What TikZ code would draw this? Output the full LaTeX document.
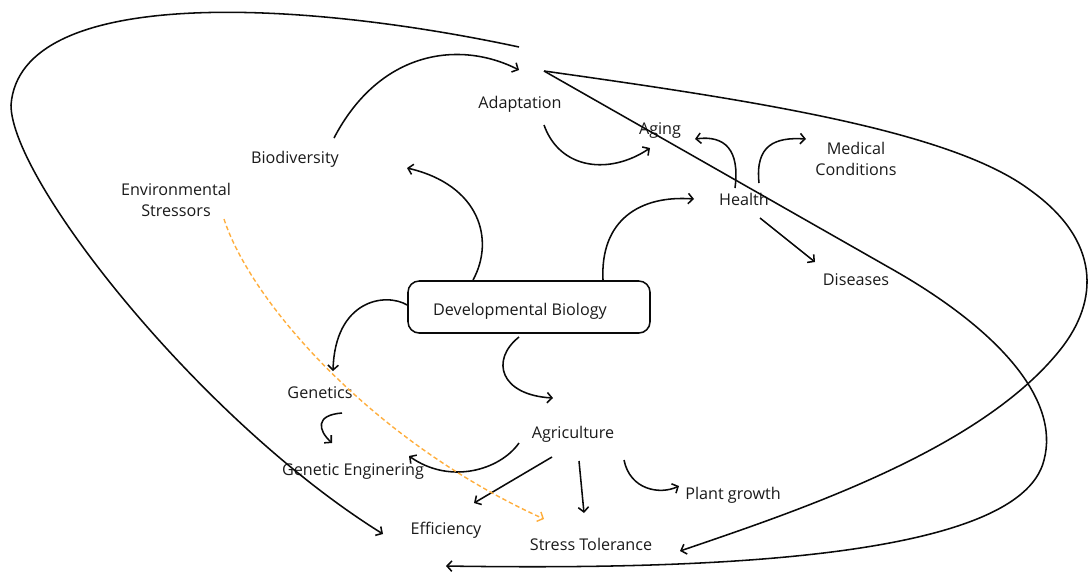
\documentclass[tikz,border=0pt]{standalone}
\usepackage{fontspec}
\setmainfont{Open Sans}
\usetikzlibrary{arrows.meta}
\definecolor{inkLine}{HTML}{0A0A0A}
\definecolor{inkText}{HTML}{1A1A1A}
\definecolor{stressOrange}{HTML}{FFAE3D}

\begin{document}
\begin{tikzpicture}[
  x=0.25mm, y=-0.25mm,
  font=\fontsize{11.5}{15}\selectfont,
  term/.style={align=center,text=inkText,inner sep=1pt},
  hub/.style={term,draw=inkLine,rounded corners=2.8mm,line width=1.1pt,minimum width=60.5mm,minimum height=13mm},
  edge/.style={-{Straight Barb[length=1.2mm,width=2.6mm]},line width=1.1pt,draw=inkLine},
  hint/.style={edge,draw=stressOrange,dash pattern=on 3.2pt off 2pt,line width=1pt}
]
\useasboundingbox (0,0) rectangle (1091,572);
% Coordinates are in pixels of the sketch, y running downwards.
% Arrow ends sit beside the words, so they are shifted from the node centres.
\node[hub] (devbio) at (529,307) {\hspace*{-4.5mm}\rule{0pt}{5mm}Developmental Biology};
\node[term] (adapt) at (520,104) {Adaptation};
\node[term] (biodiv) at (295,159) {Biodiversity};
\node[term] (envstress) at (176,200) {Environmental\\Stressors};
\node[term] (aging) at (660,131) {Aging};
\node[term] (medical) at (856,159) {Medical\\Conditions};
\node[term] (health) at (744,199) {Health};
\node[term] (diseases) at (856,280) {Diseases};
\node[term] (genetics) at (320,393) {Genetics};
\node[term] (geneng) at (353,471) {Genetic Enginering};
\node[term] (agri) at (573,434) {Agriculture};
\node[term] (plant) at (733,495) {Plant growth};
\node[term] (effic) at (446,530) {Efficiency};
\node[term] (stresstol) at (591,544) {Stress Tolerance};
\coordinate (loopstart) at (519,47);
\coordinate (fanstart) at (544,71);

\draw[edge] ([shift={(39,-21)}]biodiv.center) .. controls +(46,-88) and +(-59,-30) .. ([shift={(-1,-34)}]adapt.center);
\draw[edge] ([shift={(24,21)}]adapt.center) .. controls +(16,45) and +(-40,27) .. ([shift={(-10,17)}]aging.center);
\draw[edge] ([shift={(-9,-11)}]health.center) .. controls +(5,-38) and +(30,-4) .. ([shift={(35,8)}]aging.center);
\draw[edge] ([shift={(15,-16)}]health.center) .. controls +(-4,-38) and +(-31,-2) .. ([shift={(-50,-20)}]medical.center);
\draw[edge] ([shift={(16,19)}]health.center) -- ([shift={(-41,-18)}]diseases.center);
\draw[edge] ([shift={(74,-27)}]devbio.center) .. controls +(-3,-60) and +(-54,-4) .. ([shift={(-50,0)}]health.center);
\draw[edge] ([shift={(-56,-27)}]devbio.center) .. controls +(22,-40) and +(73,17) .. ([shift={(112,9)}]biodiv.center);
\draw[edge] ([shift={(0,-2)}]devbio.west) .. controls +(-22,-13) and +(2,-71) .. ([shift={(13,-22)}]genetics.center);
\draw[edge] ([shift={(-10,30)}]devbio.center) .. controls +(-29,23) and +(-53,-3) .. ([shift={(-20,-36)}]agri.center);
\draw[edge] ([shift={(22,20)}]genetics.center) .. controls +(-27,2) and +(-14,-13) .. ([shift={(-21,-28)}]geneng.center);
\draw[edge] ([shift={(-54,9)}]agri.center) .. controls +(-19,27) and +(41,29) .. ([shift={(56,-15)}]geneng.center);
\draw[edge] ([shift={(-21,23)}]agri.center) -- ([shift={(28,-27)}]effic.center);
\draw[edge] ([shift={(6,27)}]agri.center) -- ([shift={(-7,-31)}]stresstol.center);
\draw[edge] ([shift={(51,26)}]agri.center) .. controls +(6,30) and +(-19,9) .. ([shift={(-54,-9)}]plant.center);
\draw[hint] ([shift={(48,19)}]envstress.center) .. controls +(26,81) and +(-174,-79) .. ([shift={(-47,-25)}]stresstol.center);

% long loops round the whole sketch
\draw[edge] (loopstart) .. controls (300,0) and (20,-15) .. (11,105)
  .. controls (11,180) and (200,420) .. ([shift={(-63,4)}]effic.center);
\draw[edge] (fanstart) -- (890,268) .. controls (1000,330) and (1060,400) .. (1044,460)
  .. controls (1020,560) and (700,570) .. ([shift={(0,36)}]effic.center);
\draw[edge] (fanstart) .. controls (750,100) and (950,130) .. (1030,190)
  .. controls (1100,240) and (1100,300) .. (1060,350)
  .. controls (980,450) and (800,510) .. ([shift={(89,7)}]stresstol.center);
\end{tikzpicture}
\end{document}
